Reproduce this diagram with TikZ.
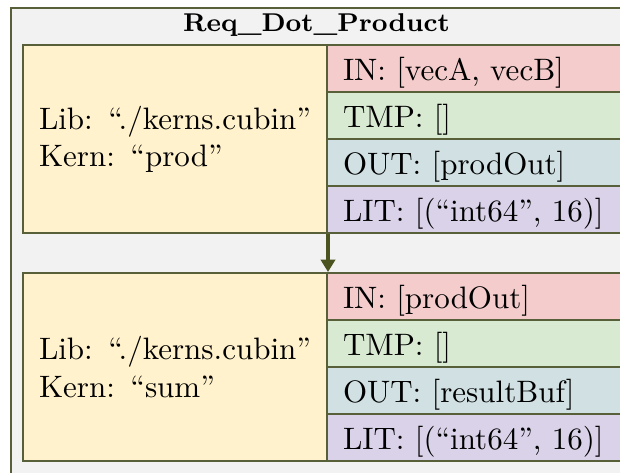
\documentclass[tikz,border=0pt]{standalone}
\usetikzlibrary{arrows.meta}
\definecolor{bgc}{HTML}{F2F2F2}
\definecolor{bordc}{RGB}{88,96,58}
\definecolor{yel}{HTML}{FFF2CC}
\definecolor{redr}{HTML}{F4CCCC}
\definecolor{grnr}{HTML}{D9EAD3}
\definecolor{blur}{HTML}{D0E0E3}
\definecolor{purr}{HTML}{D9D2E9}
\definecolor{arrc}{RGB}{75,83,32}
\def\px{0.3226pt}
\begin{document}
\begin{tikzpicture}[x=0.3226pt,y=-0.3226pt,
  frame/.style={draw=bordc, line width=0.65pt, fill=bgc, anchor=north west,
    minimum width=620*\px, minimum height=480*\px, inner sep=0},
  kernbox/.style={draw=bordc, line width=0.65pt, fill=yel, anchor=north west,
    minimum width=304*\px, minimum height=188*\px, text width=272*\px,
    align=left, inner xsep=16*\px, inner ysep=0},
  rowbox/.style={draw=bordc, line width=0.65pt, anchor=north west,
    minimum width=300*\px, minimum height=47*\px, text width=268*\px,
    align=left, inner xsep=16*\px, inner ysep=0, text height=8.5pt, text depth=0.8pt},
  flow/.style={draw=arrc, line width=1pt, -{Triangle[width=4.6pt,length=4pt]}}
]
\useasboundingbox (0,0) rectangle (620,473);
\clip (0,0) rectangle (620,473);
\node[frame] (frame) at (10,7) {};
\node[anchor=base, font=\fontsize{8.3}{10}\selectfont\bfseries] (title) at (316.5,31.5) {Req\_Dot\_Product};
% first kernel
\node[kernbox] (k1) at (22,44) {Lib: “./kerns.cubin”\\Kern: “prod”};
\node[rowbox, fill=redr] (in1) at (326,44) {IN: [vecA, vecB]};
\node[rowbox, fill=grnr] (tmp1) at (326,91) {TMP: []};
\node[rowbox, fill=blur] (out1) at (326,138) {OUT: [prodOut]};
\node[rowbox, fill=purr] (lit1) at (326,185) {LIT: [(“int64”, 16)]};
% second kernel
\node[kernbox] (k2) at (22,272) {Lib: “./kerns.cubin”\\Kern: “sum”};
\node[rowbox, fill=redr] (in2) at (326,272) {IN: [prodOut]};
\node[rowbox, fill=grnr] (tmp2) at (326,319) {TMP: []};
\node[rowbox, fill=blur] (out2) at (326,366) {OUT: [resultBuf]};
\node[rowbox, fill=purr] (lit2) at (326,413) {LIT: [(“int64”, 16)]};
\draw[flow] (k1.south east) -- (k2.north east);
\end{tikzpicture}
\end{document}
